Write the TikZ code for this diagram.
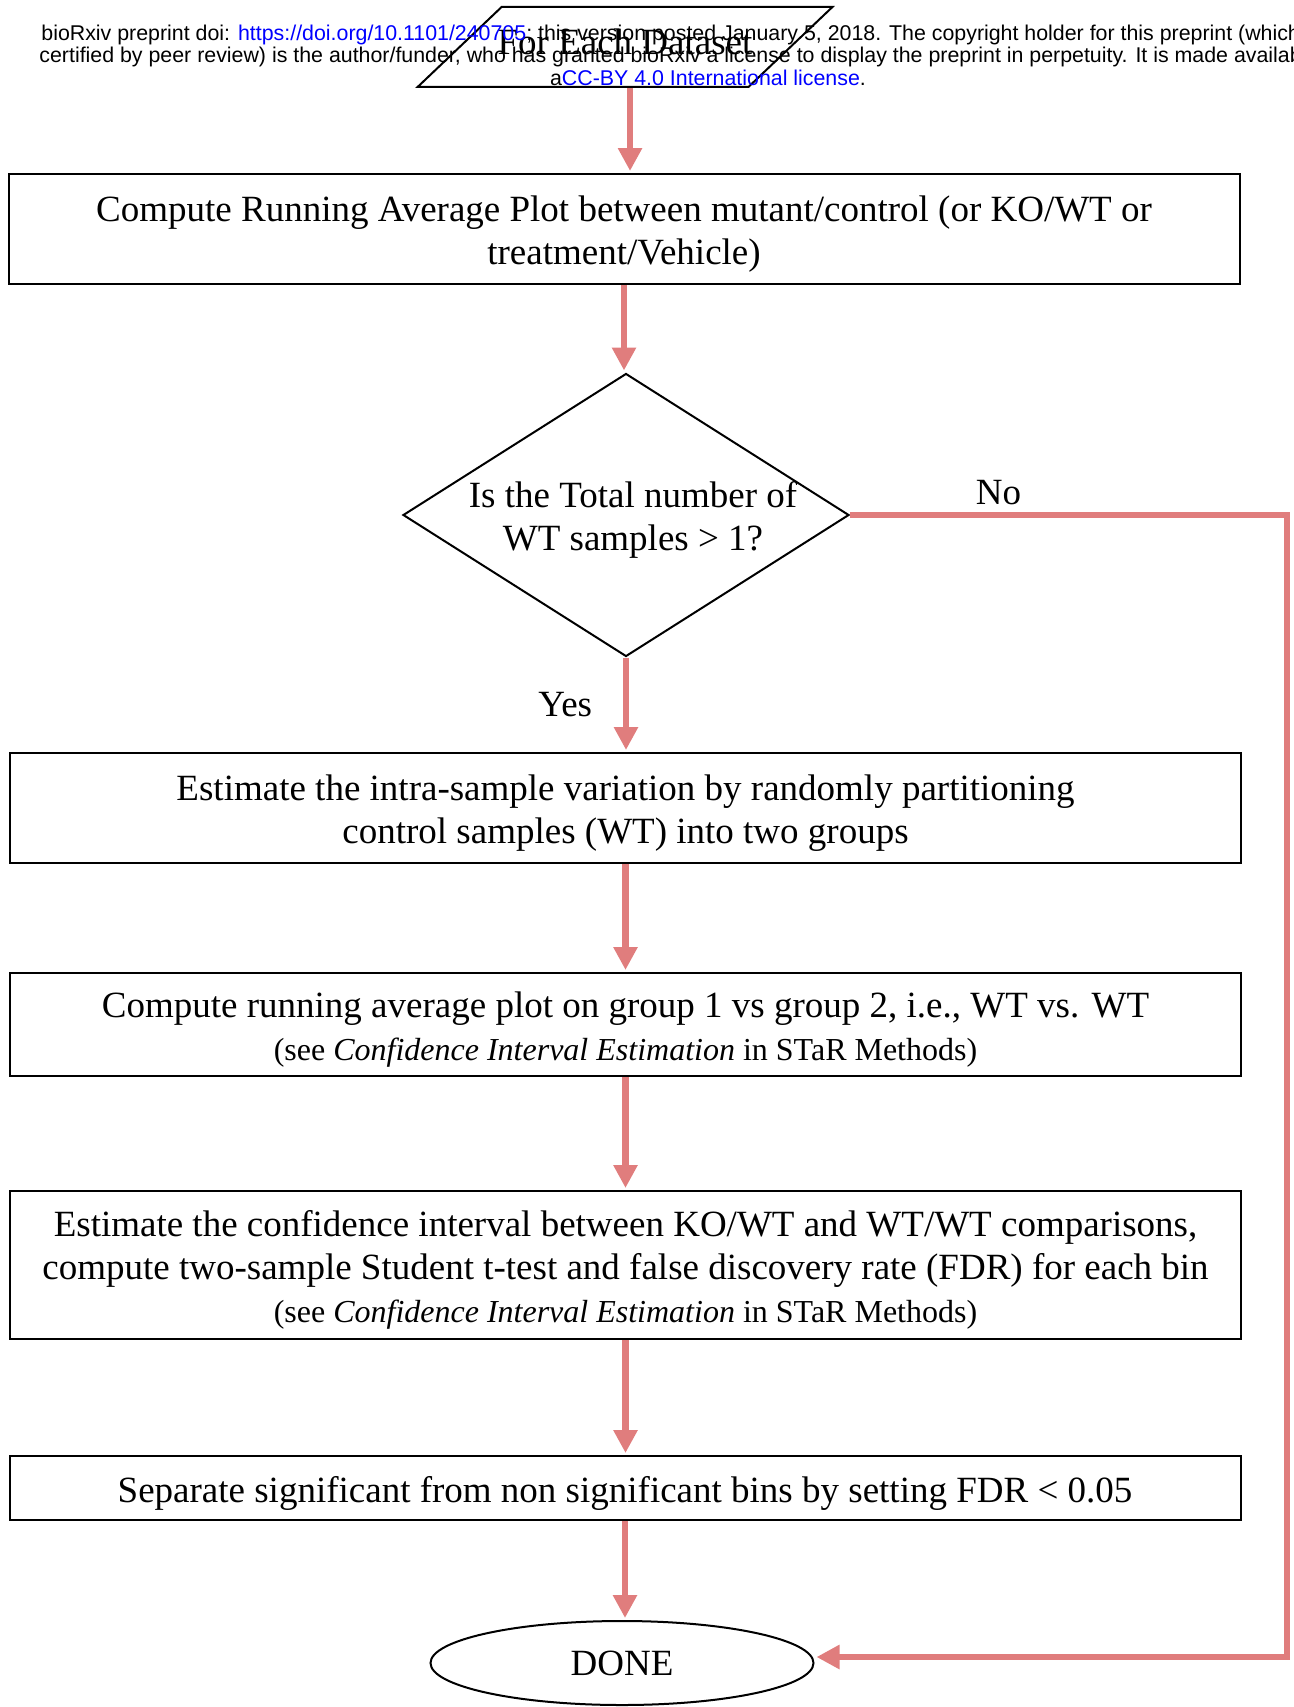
\documentclass[tikz,border=0pt]{standalone}
\usepackage{fontspec}
\setmainfont{Liberation Serif}
\newfontfamily\headfont{Liberation Sans}
\usetikzlibrary{shapes.geometric,arrows.meta}
\definecolor{flowred}{RGB}{224,125,125}
\definecolor{linkblue}{RGB}{0,0,255}
\newcommand{\bigtext}{\fontsize{18.5}{21.5}\selectfont}
\newcommand{\smalltext}{\fontsize{16}{20}\selectfont}
\newcommand{\headtext}{\fontsize{10.68}{10.75}\selectfont\headfont}
\tikzset{
  process/.style={draw, line width=1pt, minimum width=615.5pt, inner sep=0pt},
  boxtext/.style={align=center, font=\bigtext, inner sep=0pt, yshift=-2.5pt},
  decision/.style={draw, line width=1pt, diamond, shape aspect=1.576, minimum width=223pt, minimum height=141.5pt, inner sep=0pt},
  terminal/.style={draw, line width=1pt, ellipse, minimum width=191.5pt, minimum height=42pt, inner sep=0pt, font=\bigtext},
  dataset/.style={draw, line width=1pt, trapezium, trapezium left angle=43.6, trapezium right angle=136.4,
    text height=12.5pt, text depth=4.5pt, inner xsep=-2pt, inner ysep=11.5pt, font=\bigtext},
  flow/.style={draw=flowred, line width=3.25pt, -{Triangle[width=11.5pt,length=11.5pt]}, shorten >=1pt},
  header/.style={inner sep=0pt, font=\headtext}
}
\begin{document}
\begin{tikzpicture}[x=0.5pt,y=-0.5pt]
  \useasboundingbox (0,0) rectangle (1294,1707);
  % flowchart boxes
  \node[dataset] (start) at (625,47) {For Each Dataset};
  \node[process, minimum height=55pt, label={[boxtext]center:Compute Running Average Plot between mutant/control (or KO/WT or\\ treatment/Vehicle)}] (compute) at (624,229) {};
  \node[decision, label={[boxtext, xshift=3.5pt]center:Is the Total number of\\ WT samples > 1?}] (check) at (626,515) {};
  \node[process, minimum height=55pt, label={[boxtext]center:Estimate the intra-sample variation by randomly partitioning\\ control samples (WT) into two groups}] (intra) at (625.5,808) {};
  \node[process, minimum height=51.5pt, label={[boxtext]center:Compute running average plot on group 1 vs group 2, i.e., WT vs. WT\\
     {\smalltext(see \textit{Confidence Interval Estimation} in STaR Methods)}}] (wtvswt) at (625.5,1024.5) {};
  \node[process, minimum height=74pt, label={[boxtext]center:Estimate the confidence interval between KO/WT and WT/WT comparisons,\\
     compute two-sample Student t-test and false discovery rate (FDR) for each bin\\
     {\smalltext(see \textit{Confidence Interval Estimation} in STaR Methods)}}] (confint) at (625.5,1265) {};
  \node[process, minimum height=32pt, label={[boxtext]center:Separate significant from non significant bins by setting FDR < 0.05}] (separate) at (625,1488) {};
  \node[terminal] (done) at (622,1663) {DONE};
  \coordinate (turn) at (1287,515);
  \coordinate (back) at (1287,1657);
  % connectors
  \begin{scope}[font=\bigtext]
    \draw[flow] ([xshift=2.5pt]start.south) -- ([xshift=2.5pt]start.south |- compute.north);
    \draw[flow] (compute.south) -- (compute.south |- check.north);
    \draw[flow] (check.south) -- node[midway, left=12pt] {Yes} (check.south |- intra.north);
    \draw[flow] (intra.south) -- (intra.south |- wtvswt.north);
    \draw[flow] (wtvswt.south) -- (wtvswt.south |- confint.north);
    \draw[flow] (confint.south) -- (confint.south |- separate.north);
    \draw[flow] (separate.south) -- (separate.south |- done.north);
    \draw[flow] (check.east) -- node[above, pos=0.34] {No} (turn) -- (back) -- (done.east |- back);
  \end{scope}
  % preprint header
  \node[header, anchor=west] (head1) at (41,35)
    {bioRxiv preprint doi: \textcolor{linkblue}{https://doi.org/10.1101/240705}; this version posted January 5, 2018. The copyright holder for this preprint (which was not};
  \node[header, anchor=west] (head2) at (39,57)
    {certified by peer review) is the author/funder, who has granted bioRxiv a license to display the preprint in perpetuity. It is made available under};
  \node[header] (head3) at (708,78)
    {a\textcolor{linkblue}{CC-BY 4.0 International license}.};
\end{tikzpicture}
\end{document}
